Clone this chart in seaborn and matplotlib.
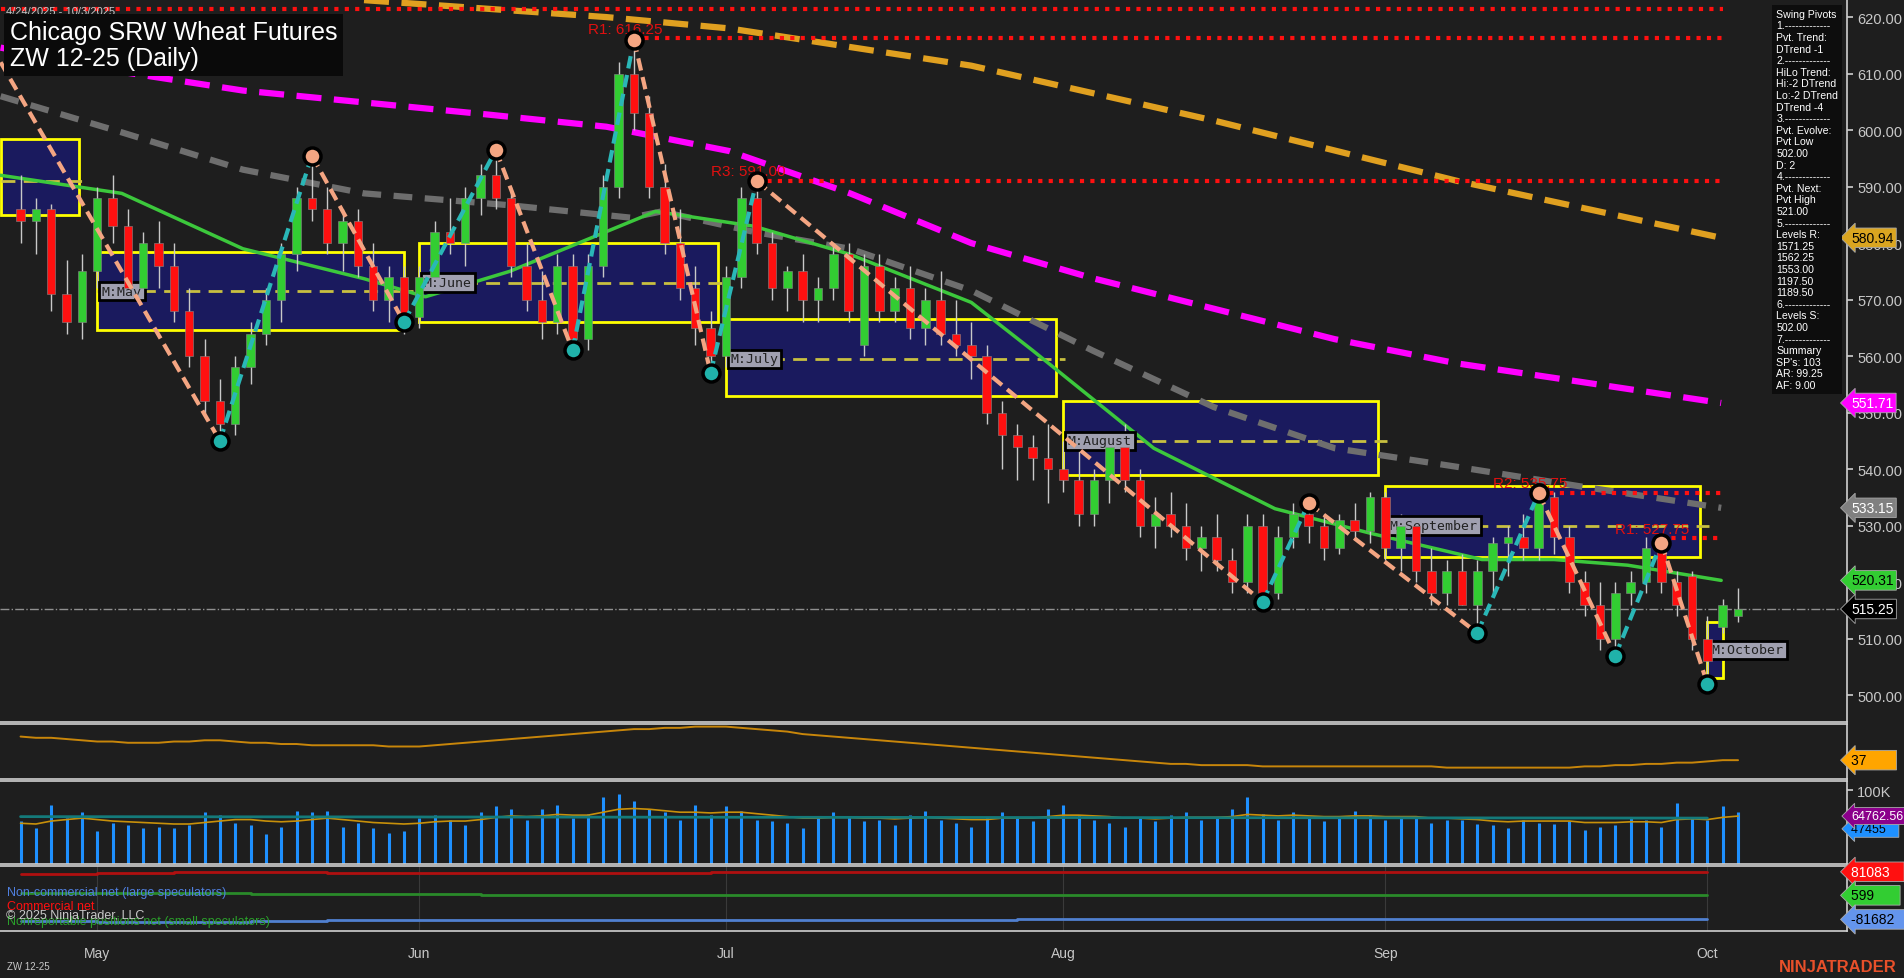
import numpy as np
import pandas as pd
import matplotlib
matplotlib.use("Agg")
import matplotlib.pyplot as plt
import seaborn as sns

# ---------------- data ----------------
opens = [586,584,586,571,566,575,588,583,572,580,576,568,560,552,548,558,564,570,578,588,
         586,580,584,576,570,574,567,574,582,580,588,592,588,576,570,566,576,563,576,590,
         610,603,590,580,572,565,560,574,588,580,572,575,570,572,578,562,576,568,572,565,
         570,564,562,560,550,546,544,542,540,538,532,538,544,538,530,532,530,526,528,524,
         520,530,518,528,532,530,526,531,529,535,526,530,522,518,522,516,522,527,528,526,
         535,528,520,516,510,518,520,526,520,521,510,512,514]
highs = [592,588,587,577,578,590,592,586,582,584,580,572,563,556,560,566,572,580,590,595,
         590,586,586,580,576,576,576,584,588,590,594,597,590,580,575,578,578,578,592,612,
         616,606,594,586,576,568,576,590,591,582,576,578,574,580,580,578,578,574,576,572,
         575,570,566,562,552,548,546,548,545,544,540,546,548,540,535,536,534,530,532,526,
         532,532,530,534,534,532,532,534,536,536,532,531,526,524,525,524,528,530,532,536,
         536,530,522,520,520,522,528,527,522,522,514,517,519]
lows = [580,578,568,564,563,572,580,570,570,572,566,558,550,545,546,555,562,566,575,584,
        578,575,574,568,566,564,565,572,578,576,585,586,574,568,563,564,560,561,574,588,
        600,588,578,570,562,557,558,572,578,570,568,566,566,570,566,560,566,566,563,562,
        562,560,556,548,540,538,538,534,536,530,530,534,536,528,526,528,524,522,522,518,
        518,516,517,526,527,524,525,528,527,524,522,520,516,516,516,511,518,521,524,524,
        525,518,514,508,507,516,518,518,514,508,502,511,513]
closes = [584,586,571,566,575,588,583,572,580,576,568,560,552,548,558,564,570,578,588,586,
          580,584,576,570,574,567,574,582,580,588,592,588,576,570,566,576,563,576,590,610,
          603,590,580,572,565,560,574,588,580,572,575,570,572,578,568,576,568,572,565,570,
          564,562,560,550,546,544,542,540,538,532,538,544,538,530,532,530,526,528,524,520,
          530,518,528,532,530,526,531,529,535,526,530,522,518,522,516,522,527,528,526,535,
          528,520,516,510,518,520,526,520,516,510,506,516,515.25]
volume = [58,48,80,62,70,45,55,52,48,50,48,52,70,66,55,52,40,50,72,70,
          72,50,56,48,42,44,62,66,60,52,70,78,74,60,74,80,62,68,90,95,
          85,75,70,60,80,66,78,72,60,58,55,48,62,70,64,58,60,52,66,72,
          60,56,50,64,70,62,58,74,80,66,60,55,50,62,58,66,70,60,64,74,
          90,68,60,70,62,58,64,72,66,60,62,64,56,60,60,54,52,48,60,56,
          54,58,46,50,52,62,60,50,82,64,60,78,70,55,52,47.5][:113]
vol_avg = [55,54,58,60,62,60,58,57,56,55,54,54,56,58,60,60,58,57,58,60,
           62,60,58,56,55,54,55,57,58,58,60,63,65,64,65,67,66,66,70,74,
           75,74,72,70,70,69,70,70,68,66,64,62,62,63,63,62,62,61,62,63,
           62,61,60,60,62,62,62,64,66,66,65,64,62,62,61,62,63,63,63,64,
           67,66,65,66,65,64,64,65,65,64,64,64,62,62,61,60,58,57,58,58,
           58,58,56,56,56,57,57,56,60,61,60,63,64.76][:113]

green_ma = [(-1.3,592),(6.6,588.8),(14.5,579),(22.4,573.7),(26.4,570.5),(31.9,575),(41.4,585.6),
            (47.8,583),(54.1,578),(62,569.5),(66,561),(73.9,543.7),(81.8,533),(88.1,528.6),
            (95.3,524),(100,524),(104.8,523),(110.9,520.31)]
gray_ma = [(-1.3,606),(6.6,599.6),(14.5,593),(22.4,588.8),(31.9,586.7),(39.8,584.5),(41.8,585.6),
           (47.8,582),(54.1,579),(62,571.6),(69.9,561),(77.8,551),(85.7,543.7),(93.7,540.4),
           (101.6,537),(110.9,533.15)]
magenta_ma = [(-1.3,614.6),(6.6,610.3),(14.5,607),(30.3,602.8),(38.2,600.6),(46.2,596.3),(54.1,588.8),
              (62,580),(69.9,573.8),(77.8,568.4),(85.7,563),(93.7,558.7),(101.6,555.5),(110.9,551.71)]
orange_ma = [(22.4,623),(38.2,620),(46.2,618),(62,611.4),(77.8,601.7),(93.7,591),(110.9,580.94)]

piv_idx = [-1.3,13,19,25,31,36,40,45,48,81,84,95,99,104,107,110]
piv_val = [612,545,595.5,566,596.5,561,616,557,591,516.5,534,511,535.75,507,527,502]

box_start = [-1.3, 5, 26, 46, 68, 89, 110]
box_end = [3.8, 25, 45.5, 67.5, 88.5, 109.5, 111]
box_low = [585, 564.7, 566, 553, 539, 524.5, 503]
box_high = [598.5, 578.5, 580, 566.5, 552, 537, 513]
box_mid = [591, 571.5, 573, 559.5, 545, 530, 508]
box_label = ["", "M:May", "M:June", "M:July", "M:August", "M:September", "M:October"]

res_start = [-1.3, 40, 48, 99, 107]
res_val = [621.5, 616.25, 591.0, 535.75, 527.75]
res_label = ["", "R1: 616.25", "R3: 591.00", "R2: 535.75", "R1: 527.75"]

osc = [56,55,55,54,53,52,52,51,51,51,52,52,53,53,52,51,51,50,50,49,
       49,49,49,49,48,48,48,49,50,51,52,53,54,55,56,57,58,59,60,61,
       62,62,63,63,64,64,64,63,62,61,60,58,57,56,55,54,53,52,51,50,
       49,48,47,46,45,44,43,42,41,40,39,38,37,36,35,34,34,33,33,33,
       33,32,32,32,32,32,32,32,32,32,32,32,32,31,31,31,31,31,31,31,
       31,31,32,32,33,33,34,34,35,35,36,37,37][:113]

cot_x = [0,5,10,15,20,25,30,35,40,45,50,55,60,65,70,75,80,85,90,95,100,105,110]
cot_comm = [72000,76000,80000,82000,78000,78000,77000,78000,78000,79000,79000,80000,80000,80000,80000,81000,80000,81000,80000,80500,80500,81000,81083]
cot_small = [8000,8000,8000,6000,4000,4000,3000,3000,2000,2000,1500,1000,1000,800,700,700,600,600,600,600,600,600,599]
cot_large = [-88000,-90000,-92000,-88000,-85000,-85000,-84000,-84000,-83000,-83000,-82000,-82000,-82000,-81000,-81500,-81000,-80000,-80000,-81000,-80500,-81500,-81682,-81682]

month_idx = [5, 26, 46, 68, 89, 110]
month_lab = ["May", "Jun", "Jul", "Aug", "Sep", "Oct"]

# ---------------- style ----------------
sns.set_theme(style="dark")
BG = "#1e1e1e"
plt.rcParams['font.family'] = ['Liberation Sans', 'DejaVu Sans']
plt.rcParams['axes.facecolor'] = BG
TXT = "#c8c8c8"

W, H = 1568.0, 806.0
fig = plt.figure(figsize=(19.04, 9.79), dpi=100, facecolor=BG)
XL = (-1.34, 119.1)
def mk(top, bot):
    ax = fig.add_axes([0, 1 - bot / H, 1521 / W, (bot - top) / H])
    ax.set_facecolor(BG)
    ax.set_xlim(*XL)
    for s in ax.spines.values():
        s.set_color("#d0d0d0"); s.set_linewidth(1.2)
    ax.spines['left'].set_visible(False)
    ax.yaxis.tick_right()
    ax.tick_params(colors=TXT, labelsize=10.5, length=4, direction='out')
    ax.tick_params(axis='x', length=0)
    ax.set_xticks([])
    ax.grid(False)
    return ax

ax = mk(0, 595)
ax.set_ylim(495.3, 623.2)
idx = np.arange(len(closes))

for s, e, lo, hi, mid, lab in zip(box_start, box_end, box_low, box_high, box_mid, box_label):
    ax.add_patch(plt.Rectangle((s, lo), e - s, hi - lo, facecolor="#1a1a5e", edgecolor="#ffff00", lw=2, zorder=1))
    ax.plot([s, e + 0.6], [mid, mid], color="#c8c040", ls=(0, (5, 3)), lw=2, zorder=2)
    if lab:
        ax.text(s + 0.3, mid, lab, fontsize=9.5, family="DejaVu Sans Mono", color="#222", va="center",
                bbox=dict(facecolor="#a0a0b0", edgecolor="black", lw=2, pad=2), zorder=6)

for pts, col, ls, lw in [(orange_ma, "#e0a020", (0, (4, 2)), 4.5), (magenta_ma, "#ff00ff", (0, (4, 2)), 4.5),
                         (gray_ma, "#6e6e6e", (0, (3, 2)), 4.5), (green_ma, "#3cc83c", "-", 2.5)]:
    d = pd.DataFrame(pts, columns=["i", "v"])
    sns.lineplot(data=d, x="i", y="v", ax=ax, color=col, lw=lw, linestyle=ls, zorder=3)

for s, v, lab in zip(res_start, res_val, res_label):
    ax.plot([s, 111], [v, v], color="#ff1010", ls=(0, (1, 1.5)), lw=3, zorder=4)
    if lab:
        ax.text(s - 3, v + 1.0, lab, color="#e01010", fontsize=11, zorder=5)

ax.axhline(515.25, color="#909090", ls="-.", lw=1, zorder=2)

up = np.array(closes) >= np.array(opens)
cols = np.where(up, "#32cd32", "#ff1010")
ax.vlines(idx, lows, highs, color="#c8c8c8", lw=1, zorder=5)
body = np.abs(np.array(closes) - np.array(opens))
body = np.maximum(body, 0.6)
ax.bar(idx, body, bottom=np.minimum(opens, closes), width=0.55, color=cols, edgecolor="#888", lw=0.4, zorder=6)

for k in range(len(piv_idx) - 1):
    c = "#f4a582" if piv_val[k + 1] < piv_val[k] else "#2ab7b7"
    ax.plot(piv_idx[k:k + 2], piv_val[k:k + 2], color=c, ls=(0, (3, 1.6)), lw=3, zorder=7)
for i_, v, k in zip(piv_idx[1:], piv_val[1:], range(1, len(piv_idx))):
    hi = piv_val[k] > piv_val[k - 1]
    ax.scatter([i_], [v], s=150, color="#f4a582" if hi else "#20b2aa", edgecolor="black", lw=2.5, zorder=8)

yt = np.arange(500, 621, 10)
ax.set_yticks(yt)
ax.set_yticklabels([f"{t:.2f}" for t in yt])

def tag(a, y, txt, fc, tc="black", fs=10):
    a.annotate(txt, xy=(1.0, y), xycoords=("axes fraction", "data"), xytext=(3, 0), textcoords="offset points",
               va="center", ha="left", fontsize=fs, color=tc, annotation_clip=False, zorder=20,
               bbox=dict(boxstyle="larrow,pad=0.2", fc=fc, ec="#aaa", lw=0.6))

tag(ax, 580.94, "580.94", "#daa520")
tag(ax, 551.71, "551.71", "#ff00ff", "white")
tag(ax, 533.15, "533.15", "#808080", "white")
tag(ax, 520.31, "520.31", "#32cd32")
tag(ax, 515.25, "515.25", "black", "white")

fig.text(5 / W, 1 - 6 / H, "4/24/2025 - 10/3/2025", color=TXT, fontsize=8, va="top")
fig.text(8 / W, 1 - 17 / H, "Chicago SRW Wheat Futures\nZW 12-25 (Daily)", color="white", fontsize=18,
         va="top", linespacing=1.15, bbox=dict(facecolor="#0a0a0a", edgecolor="none", pad=4))
info = ("Swing Pivots\n1.-------------\nPvt. Trend:\nDTrend -1\n2.-------------\nHiLo Trend:\nHi:-2 DTrend\n"
        "Lo:-2 DTrend\nDTrend -4\n3.-------------\nPvt. Evolve:\nPvt Low\n502.00\nD: 2\n4.-------------\n"
        "Pvt. Next:\nPvt High\n521.00\n5.-------------\nLevels R:\n1571.25\n1562.25\n1553.00\n1197.50\n1189.50\n"
        "6.-------------\nLevels S:\n502.00\n7.-------------\nSummary\nSP's: 103\nAR: 99.25\nAF: 9.00")
fig.text(1463 / W, 1 - 8 / H, info, color="white", fontsize=7.6, va="top", linespacing=1.2,
         bbox=dict(facecolor="#0d0d0d", edgecolor="none", pad=3))

a2 = mk(597, 642)
a2.set_ylim(22, 66)
sns.lineplot(x=idx, y=osc, ax=a2, color="#c8860a", lw=1.4)
a2.set_yticks([])
tag(a2, 37, "37       ", "#ffa500")

a3 = mk(644, 712)
a3.set_ylim(0, 112)
a3.vlines(idx, 0, volume, color="#1e90ff", lw=2.2)
sns.lineplot(x=idx, y=vol_avg, ax=a3, color="#c8900a", lw=1.2)
a3.plot([0, 110], [64, 62], color="#147a7a", lw=2)
a3.set_yticks([100])
a3.set_yticklabels(["100K"])
tag(a3, 47.5, "47455   ", "#1e90ff", fs=9)
tag(a3, 64.76, "64762.56", "#8b008b", "white", fs=9)

a4 = mk(714, 767)
a4.set_ylim(-120000, 100000)
a4.step(cot_x, cot_comm, where="post", color="#b01010", lw=2)
a4.step(cot_x, cot_small, where="post", color="#2a8a2a", lw=2)
a4.step(cot_x, cot_large, where="post", color="#5080d0", lw=2)
a4.set_yticks([])
for m in month_idx:
    a4.axvline(m, color="#3a3a3a", lw=0.8, zorder=0)
a4.set_xticks(month_idx)
a4.set_xticklabels(month_lab)
a4.tick_params(axis='x', length=5, colors=TXT, labelsize=10, pad=6)
tag(a4, 81083, "81083   ", "#ff1010", "white")
tag(a4, 599, "599      ", "#32cd32")
tag(a4, -81682, "-81682  ", "#6495ed")
a4.text(0.004, 0.55, "Non-commercial net (large speculators)", transform=a4.transAxes, color="#5080e0", fontsize=9)
a4.text(0.004, 0.33, "Commercial net", transform=a4.transAxes, color="#ff1010", fontsize=9)
a4.text(0.004, 0.10, "Nonreportable positions net (small speculators)", transform=a4.transAxes, color="#2aa02a", fontsize=9)
a4.text(0.003, 0.20, "© 2025 NinjaTrader, LLC", transform=a4.transAxes, color="#c8c8c8", fontsize=9)

fig.text(6 / W, 1 - 800 / H, "ZW 12-25", color=TXT, fontsize=7, va="bottom")
fig.text(1562 / W, 1 - 803 / H, "NINJATRADER", color="#e8502a", fontsize=12, weight="bold", ha="right", va="bottom")

fig.savefig("out.png", dpi=100, facecolor=BG)
